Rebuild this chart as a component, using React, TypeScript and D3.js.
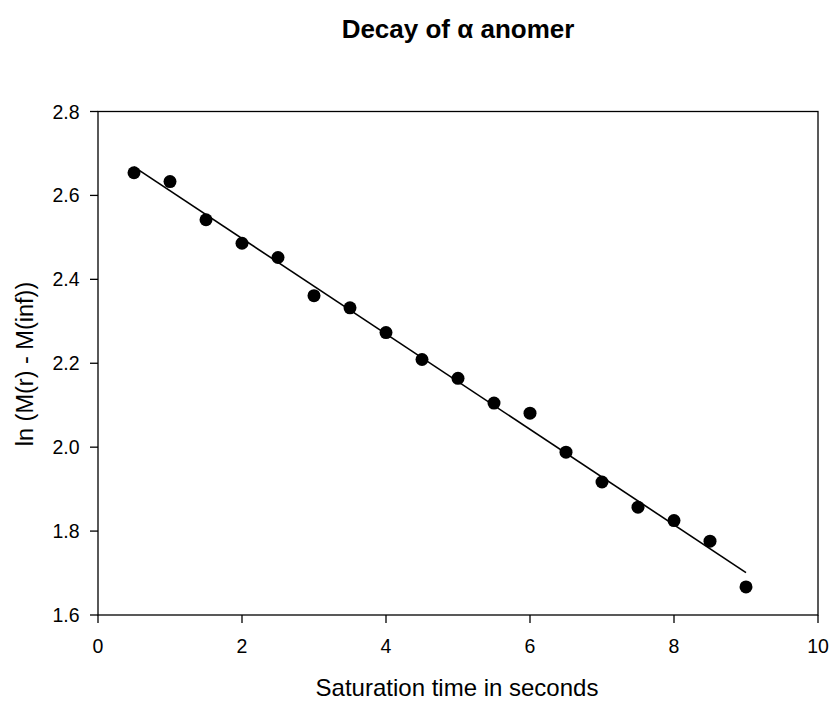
import React from "react";
import * as d3 from "d3";

const xValues = [0.5, 1.0, 1.5, 2.0, 2.5, 3.0, 3.5, 4.0, 4.5, 5.0, 5.5, 6.0, 6.5, 7.0, 7.5, 8.0, 8.5, 9.0];
const yValues = [2.654, 2.633, 2.542, 2.486, 2.452, 2.361, 2.332, 2.273, 2.209, 2.164, 2.105, 2.081, 1.988, 1.917, 1.857, 1.825, 1.776, 1.667];
const xTicks = [0, 2, 4, 6, 8, 10];
const yTicks = [1.6, 1.8, 2.0, 2.2, 2.4, 2.6, 2.8];

const W = 835;
const H = 702;
const M = { left: 98, right: 818, top: 111.5, bottom: 615 };
const FONT = "'Liberation Sans', Arial, Helvetica, sans-serif";

export default function App() {
  const x = d3.scaleLinear().domain([0, 10]).range([M.left, M.right]);
  const y = d3.scaleLinear().domain([1.6, 2.8]).range([M.bottom, M.top]);

  const mx = d3.mean(xValues)!;
  const my = d3.mean(yValues)!;
  let sxy = 0, sxx = 0;
  xValues.forEach((v, i) => {
    sxy += (v - mx) * (yValues[i] - my);
    sxx += (v - mx) * (v - mx);
  });
  const slope = sxy / sxx;
  const icpt = my - slope * mx;
  const x0 = d3.min(xValues)!;
  const x1 = d3.max(xValues)!;
  const line = d3.line<number>().x((d) => x(d)).y((d) => y(icpt + slope * d));

  return (
    <svg width={W} height={H} style={{ position: "absolute", left: 0, top: 0, background: "#fff" }} fontFamily={FONT}>
      <rect x={0} y={0} width={W} height={H} fill="#fff" />
      <text x={458} y={38} textAnchor="middle" fontSize={26} fontWeight="bold">
        Decay of α anomer
      </text>
      {/* frame */}
      <rect x={M.left} y={M.top} width={M.right - M.left} height={M.bottom - M.top} fill="none" stroke="#000" strokeWidth={1.3} />
      {/* y ticks */}
      {yTicks.map((t) => (
        <g key={"y" + t}>
          <line x1={M.left - 8} x2={M.left} y1={y(t)} y2={y(t)} stroke="#000" strokeWidth={1.3} />
          <text x={79.5} y={y(t)} dy="0.36em" textAnchor="end" fontSize={19.5}>
            {t.toFixed(1)}
          </text>
        </g>
      ))}
      {/* x ticks */}
      {xTicks.map((t) => (
        <g key={"x" + t}>
          <line x1={x(t)} x2={x(t)} y1={M.bottom} y2={M.bottom + 8} stroke="#000" strokeWidth={1.3} />
          <text x={x(t)} y={653} textAnchor="middle" fontSize={19.5}>
            {t}
          </text>
        </g>
      ))}
      <text x={457} y={695.5} textAnchor="middle" fontSize={24}>
        Saturation time in seconds
      </text>
      <text transform={`translate(33,364) rotate(-90)`} textAnchor="middle" fontSize={23.5}>
        ln (M(r) - M(inf))
      </text>
      <path d={line([x0, x1]) || ""} fill="none" stroke="#000" strokeWidth={1.6} />
      {xValues.map((v, i) => (
        <circle key={i} cx={x(v)} cy={y(yValues[i])} r={6.5} fill="#000" />
      ))}
    </svg>
  );
}
